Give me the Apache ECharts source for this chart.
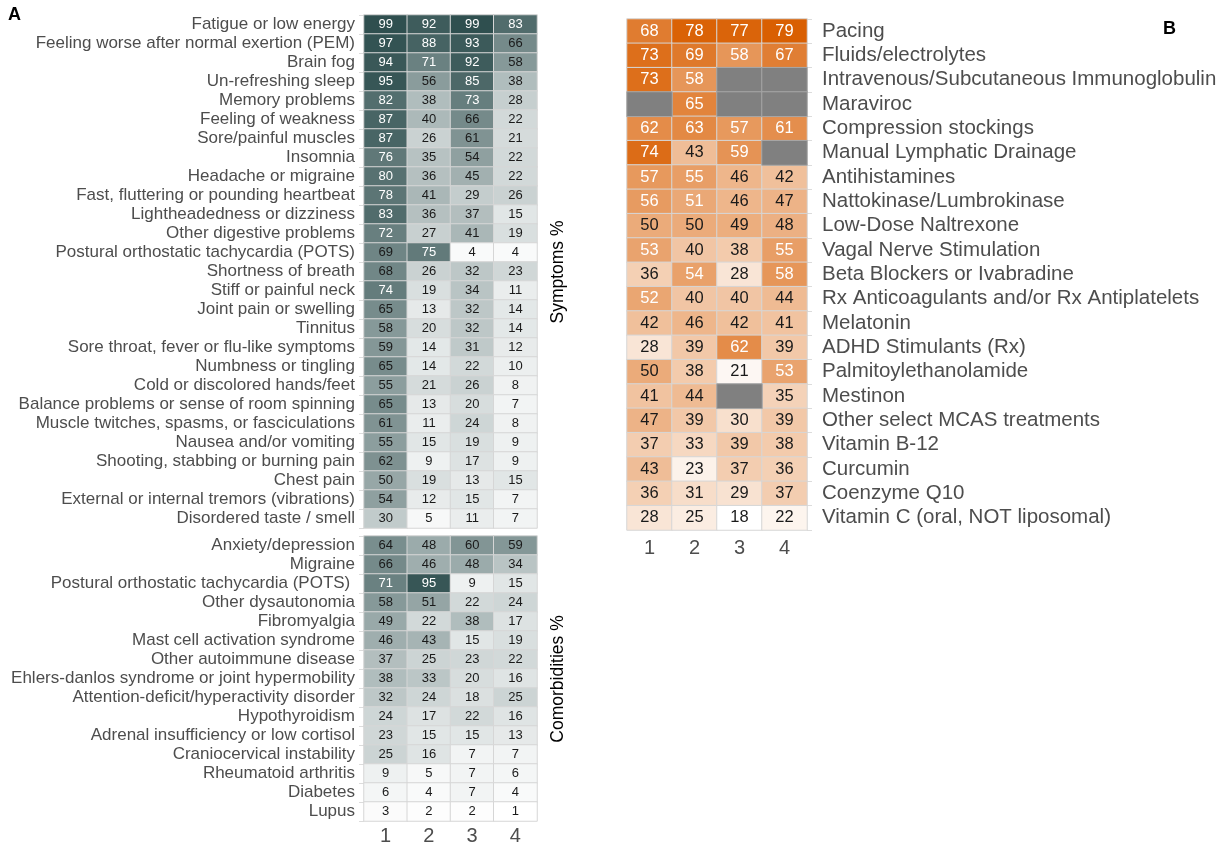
<!DOCTYPE html>
<html>
<head>
<meta charset="utf-8">
<script src="https://cdn.jsdelivr.net/npm/echarts@6/dist/echarts.min.js"></script>
<style>
  html, body { margin: 0; padding: 0; background: #fff; }
  #chart { width: 1231px; height: 846px; }
</style>
</head>
<body>
<div id="chart"></div>
<script>
// clusters (columns)
const clusters = ['1', '2', '3', '4']

// panel A - symptoms %
const symptomLabels = [
  'Fatigue or low energy',
  'Feeling worse after normal exertion (PEM)',
  'Brain fog',
  'Un-refreshing sleep',
  'Memory problems',
  'Feeling of weakness',
  'Sore/painful muscles',
  'Insomnia',
  'Headache or migraine',
  'Fast, fluttering or pounding heartbeat',
  'Lightheadedness or dizziness',
  'Other digestive problems',
  'Postural orthostatic tachycardia (POTS)',
  'Shortness of breath',
  'Stiff or painful neck',
  'Joint pain or swelling',
  'Tinnitus',
  'Sore throat, fever or flu-like symptoms',
  'Numbness or tingling',
  'Cold or discolored hands/feet',
  'Balance problems or sense of room spinning',
  'Muscle twitches, spasms, or fasciculations',
  'Nausea and/or vomiting',
  'Shooting, stabbing or burning pain',
  'Chest pain',
  'External or internal tremors (vibrations)',
  'Disordered taste / smell'
]
const symptomValues = [
  [99, 92, 99, 83],
  [97, 88, 93, 66],
  [94, 71, 92, 58],
  [95, 56, 85, 38],
  [82, 38, 73, 28],
  [87, 40, 66, 22],
  [87, 26, 61, 21],
  [76, 35, 54, 22],
  [80, 36, 45, 22],
  [78, 41, 29, 26],
  [83, 36, 37, 15],
  [72, 27, 41, 19],
  [69, 75, 4, 4],
  [68, 26, 32, 23],
  [74, 19, 34, 11],
  [65, 13, 32, 14],
  [58, 20, 32, 14],
  [59, 14, 31, 12],
  [65, 14, 22, 10],
  [55, 21, 26, 8],
  [65, 13, 20, 7],
  [61, 11, 24, 8],
  [55, 15, 19, 9],
  [62, 9, 17, 9],
  [50, 19, 13, 15],
  [54, 12, 15, 7],
  [30, 5, 11, 7]
]

// panel A - comorbidities %
const comorbLabels = [
  'Anxiety/depression',
  'Migraine',
  'Postural orthostatic tachycardia (POTS) ',
  'Other dysautonomia',
  'Fibromyalgia',
  'Mast cell activation syndrome',
  'Other autoimmune disease',
  'Ehlers-danlos syndrome or joint hypermobility',
  'Attention-deficit/hyperactivity disorder',
  'Hypothyroidism',
  'Adrenal insufficiency or low cortisol',
  'Craniocervical instability',
  'Rheumatoid arthritis',
  'Diabetes',
  'Lupus'
]
const comorbValues = [
  [64, 48, 60, 59],
  [66, 46, 48, 34],
  [71, 95, 9, 15],
  [58, 51, 22, 24],
  [49, 22, 38, 17],
  [46, 43, 15, 19],
  [37, 25, 23, 22],
  [38, 33, 20, 16],
  [32, 24, 18, 25],
  [24, 17, 22, 16],
  [23, 15, 15, 13],
  [25, 16, 7, 7],
  [9, 5, 7, 6],
  [6, 4, 7, 4],
  [3, 2, 2, 1]
]

// panel B - treatments (null = no data)
const treatmentLabels = [
  'Pacing',
  'Fluids/electrolytes',
  'Intravenous/Subcutaneous Immunoglobulin',
  'Maraviroc',
  'Compression stockings',
  'Manual Lymphatic Drainage',
  'Antihistamines',
  'Nattokinase/Lumbrokinase',
  'Low-Dose Naltrexone',
  'Vagal Nerve Stimulation',
  'Beta Blockers or Ivabradine',
  'Rx Anticoagulants and/or Rx Antiplatelets',
  'Melatonin',
  'ADHD Stimulants (Rx)',
  'Palmitoylethanolamide',
  'Mestinon',
  'Other select MCAS treatments',
  'Vitamin B-12',
  'Curcumin',
  'Coenzyme Q10',
  'Vitamin C (oral, NOT liposomal)'
]
const treatmentValues = [
  [68, 78, 77, 79],
  [73, 69, 58, 67],
  [73, 58, null, null],
  [null, 65, null, null],
  [62, 63, 57, 61],
  [74, 43, 59, null],
  [57, 55, 46, 42],
  [56, 51, 46, 47],
  [50, 50, 49, 48],
  [53, 40, 38, 55],
  [36, 54, 28, 58],
  [52, 40, 40, 44],
  [42, 46, 42, 41],
  [28, 39, 62, 39],
  [50, 38, 21, 53],
  [41, 44, null, 35],
  [47, 39, 30, 39],
  [37, 33, 39, 38],
  [43, 23, 37, 36],
  [36, 31, 29, 37],
  [28, 25, 18, 22]
]

const FONT = 'Liberation Sans, Arial, sans-serif'

function toCells(rows, whiteAbove) {
  const out = []
  rows.forEach((row, i) => {
    row.forEach((v, j) => {
      if (v === null) return
      out.push({
        value: [j, i, v],
        label: { color: v > whiteAbove ? '#ffffff' : '#1a1a1a' }
      })
    })
  })
  return out
}

function toMissing(rows) {
  const out = []
  rows.forEach((row, i) => {
    row.forEach((v, j) => {
      if (v === null) out.push([j, i, 0])
    })
  })
  return out
}

function xAxis(gridIndex, showLabels, margin) {
  return {
    type: 'category',
    gridIndex: gridIndex,
    data: clusters,
    position: 'bottom',
    axisLine: { show: false },
    axisTick: { show: false },
    splitLine: { show: false },
    axisLabel: {
      show: showLabels,
      color: '#4d4d4d',
      fontSize: 20,
      fontFamily: FONT,
      margin: margin
    }
  }
}

function yAxis(gridIndex, labels, side, fontSize, margin) {
  return {
    type: 'category',
    gridIndex: gridIndex,
    data: labels,
    inverse: true,
    position: side,
    axisLine: { show: false },
    axisTick: { show: true, length: 5, lineStyle: { color: '#dcdcdc' } },
    splitLine: { show: false },
    axisLabel: {
      interval: 0,
      color: '#4d4d4d',
      fontSize: fontSize,
      fontFamily: FONT,
      margin: margin
    }
  }
}

function heat(xi, yi, data, fontSize) {
  return {
    type: 'heatmap',
    xAxisIndex: xi,
    yAxisIndex: yi,
    data: data,
    itemStyle: { borderColor: '#d6d6d6', borderWidth: 1 },
    label: { show: true, fontSize: fontSize, fontFamily: FONT },
    emphasis: { disabled: true },
    animation: false
  }
}

const chart = echarts.init(document.getElementById('chart'))

chart.setOption({
  backgroundColor: '#ffffff',
  animation: false,
  grid: [
    { left: 364, top: 15, width: 173, height: 513, outerBoundsMode: 'none' },
    { left: 364, top: 536, width: 173, height: 285, outerBoundsMode: 'none' },
    { left: 627, top: 19, width: 180, height: 511, outerBoundsMode: 'none' }
  ],
  xAxis: [xAxis(0, false, 6), xAxis(1, true, 5), xAxis(2, true, 8)],
  yAxis: [
    yAxis(0, symptomLabels, 'left', 17, 9),
    yAxis(1, comorbLabels, 'left', 17, 9),
    yAxis(2, treatmentLabels, 'right', 20.5, 15)
  ],
  visualMap: [
    {
      type: 'continuous',
      show: false,
      seriesIndex: [0, 1],
      dimension: 2,
      min: 1,
      max: 99,
      inRange: { color: ['#ffffff', '#2f4f4f'] }
    },
    {
      type: 'continuous',
      show: false,
      seriesIndex: [2],
      dimension: 2,
      min: 18,
      max: 79,
      inRange: { color: ['#ffffff', '#d95f02'] }
    }
  ],
  series: [
    heat(0, 0, toCells(symptomValues, 69.5), 13),
    heat(1, 1, toCells(comorbValues, 69.5), 13),
    heat(2, 2, toCells(treatmentValues, 50), 16.5),
    {
      type: 'heatmap',
      xAxisIndex: 2,
      yAxisIndex: 2,
      data: toMissing(treatmentValues),
      itemStyle: { color: '#808080', borderColor: '#a6a6a6', borderWidth: 1 },
      label: { show: false },
      emphasis: { disabled: true }
    }
  ],
  graphic: [
    {
      type: 'text', left: 8, top: 6,
      style: { text: 'A', font: 'bold 18px ' + FONT, fill: '#000' }
    },
    {
      type: 'text', left: 1163, top: 20,
      style: { text: 'B', font: 'bold 18px ' + FONT, fill: '#000' }
    },
    {
      type: 'text', x: 549, y: 272, rotation: Math.PI / 2,
      style: { text: 'Symptoms %', font: '17.5px ' + FONT, fill: '#000', align: 'center', verticalAlign: 'top' }
    },
    {
      type: 'text', x: 549, y: 679, rotation: Math.PI / 2,
      style: { text: 'Comorbidities %', font: '17.5px ' + FONT, fill: '#000', align: 'center', verticalAlign: 'top' }
    }
  ]
})
</script>
</body>
</html>
